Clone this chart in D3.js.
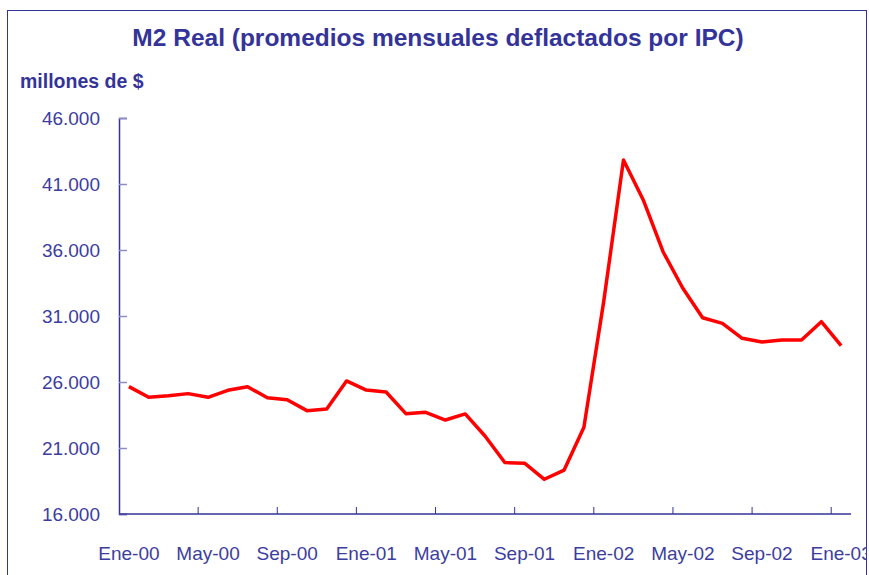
<!DOCTYPE html>
<html>
<head>
<meta charset="utf-8">
<script src="https://cdn.jsdelivr.net/npm/d3@7"></script>
<style>
  body { margin: 0; background: #fff; }
  text { font-family: "Liberation Sans", Arial, sans-serif; }
</style>
</head>
<body>
<div id="chart"></div>
<script>
// monthly categories, Ene-00 .. Ene-03
const months = ['Ene', 'Feb', 'Mar', 'Abr', 'May', 'Jun', 'Jul', 'Ago', 'Sep', 'Oct', 'Nov', 'Dic'];
const categories = [];
for (let y = 0; y <= 3; y++) {
  months.forEach(m => { if (categories.length < 37) categories.push(m + '-0' + y); });
}

// M2 real, millones de $
const m2Real = [
  25650, 24840, 24960, 25120, 24840, 25370, 25640, 24810, 24660, 23830,
  23950, 26080, 25390, 25240, 23600, 23700, 23120, 23580, 21910, 19900,
  19850, 18630, 19330, 22570, 32090, 42820, 39790, 35870, 33100, 30870,
  30440, 29310, 29030, 29180, 29180, 30570, 28750
];

const yTicks = [16000, 21000, 26000, 31000, 36000, 41000, 46000];
const xLabels = ['Ene-00', 'May-00', 'Sep-00', 'Ene-01', 'May-01', 'Sep-01', 'Ene-02', 'May-02', 'Sep-02', 'Ene-03'];

const W = 869, H = 575;
const blue = '#333399';
const margin = { top: 118, right: 18, bottom: 61, left: 119 };

const svg = d3.select('#chart').append('svg')
  .attr('width', W)
  .attr('height', H);

svg.append('clipPath').attr('id', 'frame')
  .append('rect').attr('x', 7).attr('y', 10).attr('width', 860).attr('height', H);

// frame
svg.append('rect')
  .attr('x', 7.5).attr('y', 10.5)
  .attr('width', 859).attr('height', H)
  .attr('fill', 'none')
  .attr('stroke', blue);

svg.append('text')
  .attr('x', 438).attr('y', 46)
  .attr('text-anchor', 'middle')
  .attr('font-size', 24.5)
  .attr('font-weight', 'bold')
  .attr('fill', blue)
  .text('M2 Real (promedios mensuales deflactados por IPC)');

svg.append('text')
  .attr('x', 20).attr('y', 88)
  .attr('font-size', 19.5)
  .attr('font-weight', 'bold')
  .attr('fill', blue)
  .text('millones de $');

const x = d3.scaleBand()
  .domain(categories)
  .range([margin.left, W - margin.right])
  .padding(0);

const y = d3.scaleLinear()
  .domain([16000, 46000])
  .range([H - margin.bottom, margin.top]);

// y axis
const yAxis = svg.append('g')
  .attr('transform', `translate(${margin.left},0)`)
  .call(d3.axisRight(y).tickValues(yTicks).tickSize(8).tickFormat(''));
yAxis.select('.domain').attr('stroke', blue).attr('stroke-width', 1.5);
yAxis.selectAll('.tick line').attr('stroke', '#8c8cc6').attr('stroke-width', 1.5);

svg.append('g').selectAll('text')
  .data(yTicks)
  .join('text')
  .attr('x', 100)
  .attr('y', d => y(d) + 7)
  .attr('text-anchor', 'end')
  .attr('font-size', 19)
  .attr('fill', '#3d3d9e')
  .text(d => d3.format(',')(d).replace(',', '.'));

// x axis, ticks between every 4 months
const bandEdges = categories.map((c, i) => i).filter(i => i > 0 && i % 4 === 0);
const y0 = y(16000);
const xAxis = svg.append('g');
xAxis.append('line')
  .attr('x1', margin.left).attr('x2', W - margin.right)
  .attr('y1', y0).attr('y2', y0)
  .attr('stroke', blue).attr('stroke-width', 1.5);
xAxis.selectAll('.xtick')
  .data(bandEdges)
  .join('line')
  .attr('class', 'xtick')
  .attr('x1', i => x(categories[i])).attr('x2', i => x(categories[i]))
  .attr('y1', y0).attr('y2', y0 - 7)
  .attr('stroke', blue).attr('stroke-width', 1);

svg.append('g')
  .attr('clip-path', 'url(#frame)')
  .selectAll('text')
  .data(xLabels)
  .join('text')
  .attr('x', d => x(d) + x.bandwidth() / 2)
  .attr('y', 560)
  .attr('text-anchor', 'middle')
  .attr('font-size', 19)
  .attr('fill', '#3d3d9e')
  .text(d => d);

// series
const line = d3.line()
  .x((d, i) => x(categories[i]) + x.bandwidth() / 2)
  .y(d => y(d));

svg.append('path')
  .datum(m2Real)
  .attr('d', line)
  .attr('fill', 'none')
  .attr('stroke', '#ff0000')
  .attr('stroke-width', 3.5)
  .attr('stroke-linejoin', 'round');
</script>
</body>
</html>
